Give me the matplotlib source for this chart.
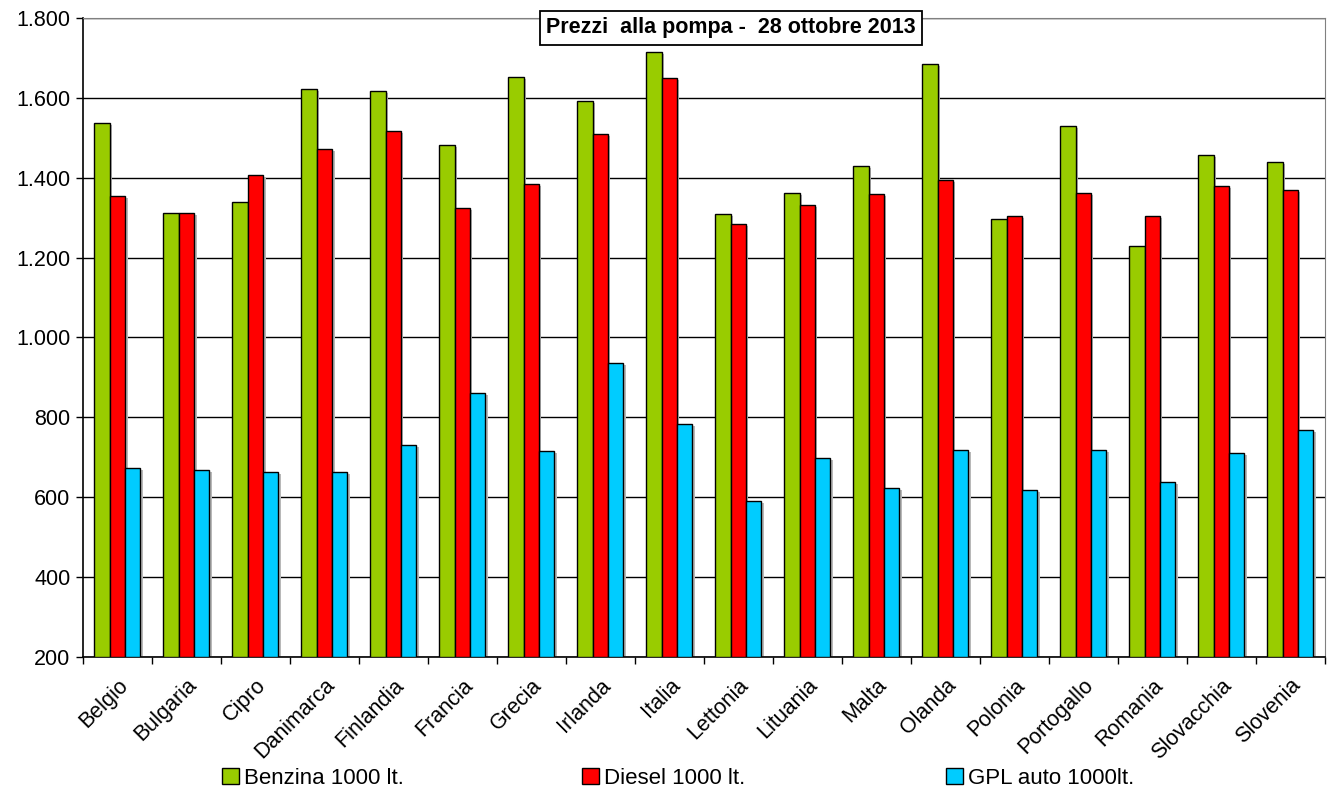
import numpy as np
import matplotlib.pyplot as plt
from matplotlib.ticker import FuncFormatter, FixedLocator

plt.rcParams['font.family'] = ['Liberation Sans', 'DejaVu Sans']

paesi = ["Belgio", "Bulgaria", "Cipro", "Danimarca", "Finlandia", "Francia",
         "Grecia", "Irlanda", "Italia", "Lettonia", "Lituania", "Malta",
         "Olanda", "Polonia", "Portogallo", "Romania", "Slovacchia", "Slovenia"]

benzina = [1537, 1312, 1339, 1622, 1616, 1483, 1653, 1592, 1715, 1309,
           1362, 1429, 1685, 1296, 1530, 1230, 1458, 1440]
diesel = [1353, 1312, 1408, 1473, 1516, 1323, 1384, 1510, 1650, 1285,
          1331, 1360, 1393, 1305, 1362, 1305, 1380, 1370]
gpl = [672, 667, 662, 662, 730, 860, 715, 936, 782, 591,
       697, 622, 718, 618, 718, 639, 711, 768]

serie = [("Benzina 1000 lt.", benzina, "#99CC00"),
         ("Diesel 1000 lt.", diesel, "#FF0000"),
         ("GPL auto 1000lt.", gpl, "#00CCFF")]

fig = plt.figure(figsize=(13.3, 8), dpi=100)
ax = fig.add_axes([0.0624, 0.179, 0.9336, 0.7985])

x = np.arange(len(paesi))
w = 1 / 4.5
barre = []
for k, (nome, vals, col) in enumerate(serie):
    off = (k - 1) * w
    # ombra leggera come in Excel
    ax.bar(x + off + 0.035, np.array(vals) - 200, width=w, bottom=200 - 5,
           color="#b8b8b8", edgecolor="none", zorder=2)
    b = ax.bar(x + off, np.array(vals) - 200, width=w, bottom=200, color=col,
               edgecolor="black", linewidth=1.0, label=nome, zorder=3)
    barre.append(b)

ax.set_xlim(-0.5, len(paesi) - 0.5)
ax.set_ylim(200, 1800)
ax.set_yticks(np.arange(200, 1801, 200))
ax.yaxis.set_major_formatter(FuncFormatter(lambda v, p: f"{int(v):,}".replace(",", ".")))
ax.yaxis.grid(True, color="black", linewidth=1.0, zorder=0)
ax.set_axisbelow(True)

ax.set_xticks(x)
ax.set_xticklabels(paesi, rotation=45, ha="right", rotation_mode="anchor", fontsize=15.5)
ax.tick_params(axis="x", length=0, pad=13)
ax.xaxis.set_minor_locator(FixedLocator(np.arange(-0.5, len(paesi), 1)))
ax.tick_params(axis="x", which="minor", length=5, width=1, direction="out")
ax.tick_params(axis="y", labelsize=15.5, length=5, width=1, direction="out", pad=4)

for s in ["top", "right"]:
    ax.spines[s].set_color("#808080")
for s in ["left", "bottom"]:
    ax.spines[s].set_color("black")
    ax.spines[s].set_linewidth(1.2)

ax.text(0.522, 0.9845, "Prezzi  alla pompa -  28 ottobre 2013", transform=ax.transAxes,
        ha="center", va="center", fontsize=15.5, fontweight="bold", zorder=5, clip_on=False,
        bbox=dict(boxstyle="square,pad=0.3", facecolor="white", edgecolor="black", linewidth=1.3))

# tre voci di legenda posizionate come nell'originale
pos_x = [222 / 1330, 582 / 1330, 946 / 1330]
for b, (nome, _, _), px in zip(barre, serie, pos_x):
    fig.legend([b], [nome], loc="center left", bbox_to_anchor=(px, 0.0275),
               frameon=False, borderpad=0, borderaxespad=0,
               prop={"size": 16},
               handlelength=0.75, handleheight=0.75, handletextpad=0.25)

fig.savefig("out.png", dpi=100)
